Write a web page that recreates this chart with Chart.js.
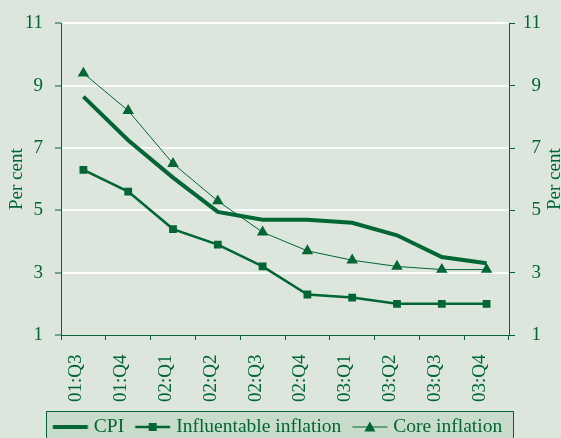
<!DOCTYPE html>
<html>
<head>
<meta charset="utf-8">
<script src="https://cdn.jsdelivr.net/npm/chart.js@4.4.0/dist/chart.umd.min.js"></script>
<style>
  html, body { margin: 0; padding: 0; background: #dce6dc; }
  canvas { display: block; }
</style>
</head>
<body>
<canvas id="c" width="561" height="438"></canvas>
<script>
// Quarterly inflation measures, per cent
const categories = ['01:Q3', '01:Q4', '02:Q1', '02:Q2', '02:Q3', '02:Q4', '03:Q1', '03:Q2', '03:Q3', '03:Q4'];
const cpi          = [8.65, 7.25, 6.05, 4.95, 4.7, 4.7, 4.6, 4.2, 3.5, 3.3];
const influentable = [6.3, 5.6, 4.4, 3.9, 3.2, 2.3, 2.2, 2.0, 2.0, 2.0];
const coreInflation = [9.4, 8.2, 6.5, 5.3, 4.3, 3.7, 3.4, 3.2, 3.1, 3.1];
const seriesNames = ['CPI', 'Influentable inflation', 'Core inflation'];
const yTicks = [1, 3, 5, 7, 9, 11];
const axisTitle = 'Per cent';

const GREEN = '#006633';
const BG = '#dce6dc';
const LEGEND_BG = '#c9dccb';
const FONT = 'Liberation Serif, Times New Roman, serif';

// Legend glyphs: a 35px line segment with the series marker in its middle
function legendIcon(lineWidth, marker) {
  const cv = document.createElement('canvas');
  cv.width = 40; cv.height = 14;
  const g = cv.getContext('2d');
  const x0 = 3.375, xm = x0 + 17.5;
  g.strokeStyle = GREEN; g.fillStyle = GREEN; g.lineWidth = lineWidth;
  g.beginPath(); g.moveTo(x0, 7); g.lineTo(x0 + 35, 7); g.stroke();
  if (marker === 'rect') {
    g.fillRect(xm - 4, 3, 8, 8);
  } else if (marker === 'triangle') {
    g.beginPath(); g.moveTo(xm, 1.5); g.lineTo(xm + 5.5, 11.5); g.lineTo(xm - 5.5, 11.5); g.closePath(); g.fill();
  }
  return cv;
}
const legendIcons = [legendIcon(4, null), legendIcon(2.5, 'rect'), legendIcon(1, 'triangle')];

function drawUpText(ctx, text, x, y) {
  ctx.save();
  ctx.fillStyle = GREEN;
  ctx.font = '19px ' + FONT;
  ctx.textAlign = 'center';
  ctx.textBaseline = 'middle';
  ctx.translate(x, y);
  ctx.rotate(-Math.PI / 2);
  ctx.fillText(text, 0, 0);
  ctx.restore();
}

const decor = {
  id: 'decor',
  beforeDraw(chart) {
    const ctx = chart.ctx, a = chart.chartArea;
    ctx.save();
    ctx.fillStyle = BG;
    ctx.fillRect(0, 0, chart.width, chart.height);
    // legend frame
    const top = chart.legend.top + 6.75;
    const left = a.left - 15, w = a.right - a.left + 19;
    ctx.fillStyle = LEGEND_BG;
    ctx.fillRect(left, top, w, chart.height - top + 5);
    ctx.strokeStyle = GREEN; ctx.lineWidth = 1;
    ctx.strokeRect(left + 0.5, top + 0.5, w, chart.height - top + 5);
    ctx.restore();
  },
  afterDraw(chart) {
    // axis titles on both sides, reading upwards
    const a = chart.chartArea, mid = (a.top + a.bottom) / 2;
    drawUpText(chart.ctx, axisTitle, a.left - 43.5, mid);
    drawUpText(chart.ctx, axisTitle, a.right + 46, mid);
  }
};

const yCommon = {
  min: 1, max: 11,
  afterBuildTicks: s => { s.ticks = yTicks.map(v => ({ value: v })); },
  border: { color: GREEN, width: 1 },
};

new Chart(document.getElementById('c'), {
  type: 'line',
  data: {
    labels: categories,
    datasets: [
      { label: seriesNames[0], data: cpi, borderColor: GREEN, borderWidth: 4, pointRadius: 0, tension: 0 },
      { label: seriesNames[1], data: influentable, borderColor: GREEN, backgroundColor: GREEN, borderWidth: 2.5,
        pointStyle: 'rect', pointRadius: 5.5, pointBorderWidth: 0, tension: 0 },
      { label: seriesNames[2], data: coreInflation, borderColor: GREEN, backgroundColor: GREEN, borderWidth: 1,
        pointStyle: 'triangle', pointRadius: 6.6, pointBorderWidth: 0, tension: 0 }
    ]
  },
  options: {
    responsive: false,
    animation: false,
    devicePixelRatio: 1,
    layout: { padding: { top: 23, bottom: -8.75, left: 16, right: 20 } },
    plugins: {
      tooltip: { enabled: false },
      legend: {
        position: 'bottom',
        labels: {
          usePointStyle: true,
          pointStyleWidth: 29.25,
          padding: 13,
          color: GREEN,
          font: { family: FONT, size: 19.5 },
          generateLabels: chart => chart.data.datasets.map((ds, i) => ({
            text: ds.label, pointStyle: legendIcons[i], datasetIndex: i,
            fillStyle: GREEN, strokeStyle: GREEN, lineWidth: 0, hidden: false, fontColor: GREEN
          }))
        }
      }
    },
    scales: {
      x: {
        offset: true,
        grid: { offset: true, drawOnChartArea: false, tickLength: 5, tickColor: GREEN },
        border: { color: GREEN, width: 1 },
        ticks: { color: GREEN, font: { family: FONT, size: 19 }, minRotation: 90, maxRotation: 90,
                 padding: 14.5, labelOffset: -7, autoSkip: false },
        afterFit: s => { s.height = 69.25; }
      },
      y: Object.assign({}, yCommon, {
        position: 'left',
        grid: {
          color: c => (c.tick && c.tick.value === 1) ? 'rgba(0,0,0,0)' : '#ffffff',
          lineWidth: 2, tickLength: 6, tickColor: GREEN, tickWidth: 1
        },
        ticks: { color: GREEN, font: { family: FONT, size: 19 }, padding: 12 },
        afterFit: s => { s.width = 45; }
      }),
      y1: Object.assign({}, yCommon, {
        position: 'right',
        grid: { drawOnChartArea: false, tickLength: 6, tickColor: GREEN, tickWidth: 1 },
        ticks: { color: GREEN, font: { family: FONT, size: 19 }, padding: 10, crossAlign: 'far' },
        afterFit: s => { s.width = 32; }
      })
    }
  },
  plugins: [decor]
});
</script>
</body>
</html>
